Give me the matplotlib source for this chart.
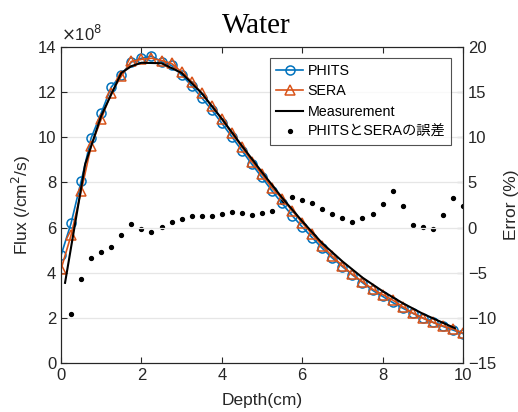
import numpy as np
import matplotlib
matplotlib.use('Agg')
import matplotlib.pyplot as plt

plt.rcParams['font.family'] = ['Liberation Sans', 'Noto Sans CJK JP', 'DejaVu Sans']

# depth grid (cm) for the simulations
depth = [0.0, 0.25, 0.5, 0.75, 1.0, 1.25, 1.5, 1.75, 2.0, 2.25, 2.5, 2.75, 3.0,
         3.25, 3.5, 3.75, 4.0, 4.25, 4.5, 4.75, 5.0, 5.25, 5.5, 5.75, 6.0,
         6.25, 6.5, 6.75, 7.0, 7.25, 7.5, 7.75, 8.0, 8.25, 8.5, 8.75, 9.0,
         9.25, 9.5, 9.75, 10.0]

# flux in units of 1e8 /cm^2/s
phits = [4.77, 6.19, 8.05, 9.97, 11.08, 12.22, 12.78, 13.33, 13.5, 13.6, 13.35,
         13.18, 12.76, 12.28, 11.75, 11.21, 10.62, 10.02, 9.41, 8.8, 8.22,
         7.62, 7.07, 6.53, 6.03, 5.55, 5.08, 4.65, 4.27, 3.9, 3.56, 3.22,
         2.95, 2.68, 2.43, 2.2, 1.99, 1.8, 1.62, 1.46, 1.3]
sera = [4.15, 5.66, 7.6, 9.62, 10.8, 11.98, 12.7, 13.36, 13.45, 13.5, 13.4,
        13.27, 12.89, 12.46, 11.95, 11.38, 10.8, 10.17, 9.56, 8.92, 8.35,
        7.75, 7.27, 6.75, 6.21, 5.7, 5.19, 4.72, 4.31, 3.92, 3.6, 3.27,
        3.03, 2.79, 2.49, 2.21, 1.99, 1.8, 1.64, 1.51, 1.33]

meas_depth = [0.1, 0.6, 1.0, 1.5, 1.75, 2.0, 2.5, 3.0, 3.5, 4.0, 4.5, 5.0,
              5.5, 6.0, 6.5, 7.0, 7.5, 8.0, 8.5, 9.0, 9.5, 9.8]
meas = [3.55, 8.8, 10.95, 12.85, 13.15, 13.3, 13.28, 12.85, 11.95, 10.82,
        9.62, 8.45, 7.32, 6.28, 5.3, 4.5, 3.78, 3.18, 2.65, 2.18, 1.78, 1.54]

# error between PHITS and SERA (%), starts at 0.25 cm
err_depth = depth[1:]
err = [-9.6, -5.65, -3.4, -2.66, -2.1, -0.78, 0.37, -0.11, -0.5, 0.07, 0.65,
       0.96, 1.29, 1.29, 1.29, 1.52, 1.72, 1.6, 1.37, 1.62, 1.78, 2.8, 3.43,
       3.06, 2.69, 2.1, 1.48, 1.03, 0.63, 1.02, 1.48, 2.66, 4.06, 2.4, 0.26,
       0.04, -0.18, 1.37, 3.25, 2.36]

blue = '#0072BD'
orange = '#D95319'
axcol = '#262626'

fig = plt.figure(figsize=(5.18, 4.12), dpi=100)
ax = fig.add_axes([0.1178, 0.119, 0.776, 0.767])
ax2 = ax.twinx()

l1, = ax.plot(depth, phits, color=blue, lw=1.2, marker='o', ms=6.5,
              mfc='none', mew=1.1, label='PHITS')
l2, = ax.plot(depth, sera, color=orange, lw=1.2, marker='^', ms=6.5,
              mfc='none', mew=1.1, label='SERA')
l3, = ax.plot(meas_depth, meas, color='black', lw=1.5, label='Measurement')
l4, = ax2.plot(err_depth, err, 'o', color='black', ms=2.8,
               label='PHITSとSERAの誤差')

ax.set_xlim(0, 10)
ax.set_ylim(0, 14)
ax.set_xticks(np.arange(0, 11, 2))
ax.set_yticks(np.arange(0, 15, 2))
ax2.set_ylim(-15, 20)
ax2.set_yticks(np.arange(-15, 21, 5))

ax.grid(axis='y', color='#e6e6e6', lw=0.9)
ax.set_axisbelow(True)

for a in (ax, ax2):
    a.tick_params(direction='in', labelsize=12, colors=axcol, length=4,
                  top=True)
    for s in a.spines.values():
        s.set_color(axcol)
        s.set_linewidth(0.8)
ax2.tick_params(axis='y', right=True, labelright=True)

ax.text(0.0, 1.008, r'$\times$10$^8$', transform=ax.transAxes, fontsize=12,
        color=axcol, va='bottom', ha='left')

ax.set_xlabel('Depth(cm)', fontsize=12.5, color=axcol, labelpad=7)
ax.set_ylabel('Flux (/cm$^2$/s)', fontsize=12.5, color=axcol, labelpad=3)
ax2.set_ylabel('Error (%)', fontsize=12.5, color=axcol, labelpad=6)

fig.text(0.494, 0.92, 'Water', fontsize=21, family='Liberation Serif',
         ha='center', va='baseline', color='black')

leg = ax.legend(handles=[l1, l2, l3, l4], loc='upper right',
                bbox_to_anchor=(0.970, 0.965), borderaxespad=0,
                fontsize=10.3, frameon=True, fancybox=False,
                edgecolor=axcol, handlelength=1.9, borderpad=0.4,
                labelspacing=0.45, handletextpad=0.3)
leg.get_frame().set_linewidth(0.8)
ax2.set_zorder(ax.get_zorder() - 1)
ax.patch.set_visible(False)

fig.savefig('out.png', dpi=100)
